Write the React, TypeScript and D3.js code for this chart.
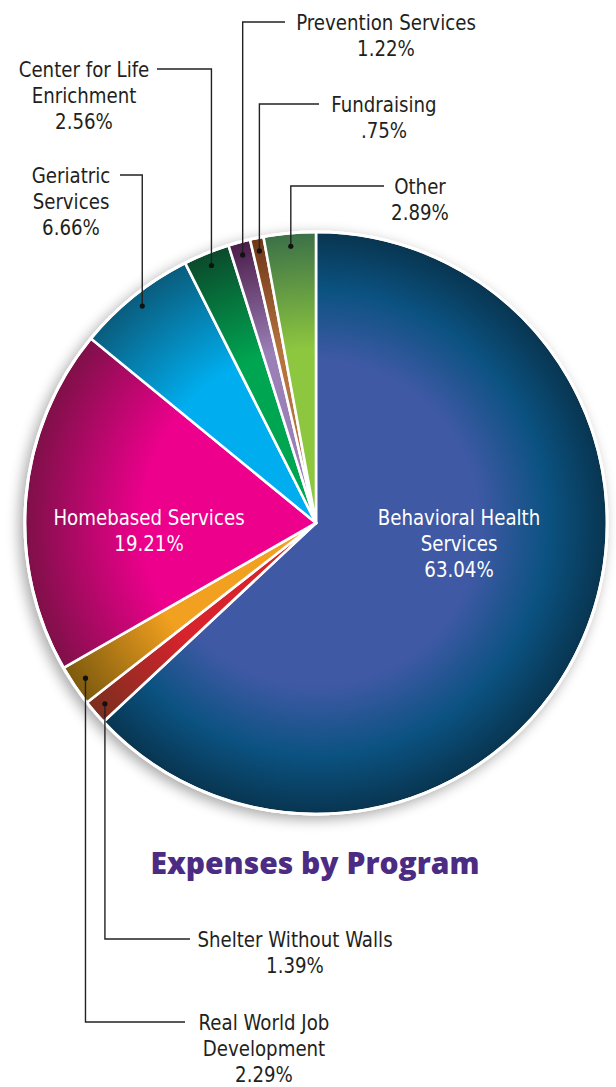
import React, { useEffect } from 'react';
import * as d3 from 'd3';

// Expenses by Program — slices run clockwise from 12 o'clock
const programs = [
  'Behavioral Health Services',
  'Shelter Without Walls',
  'Real World Job Development',
  'Homebased Services',
  'Geriatric Services',
  'Center for Life Enrichment',
  'Prevention Services',
  'Fundraising',
  'Other',
];
const shares = [63.04, 1.39, 2.29, 19.21, 6.66, 2.56, 1.22, 0.75, 2.89];
const shareLabels = ['63.04%', '1.39%', '2.29%', '19.21%', '6.66%', '2.56%', '1.22%', '.75%', '2.89%'];
const labelLines = [
  ['Behavioral Health', 'Services'],
  ['Shelter Without Walls'],
  ['Real World Job', 'Development'],
  ['Homebased Services'],
  ['Geriatric', 'Services'],
  ['Center for Life', 'Enrichment'],
  ['Prevention Services'],
  ['Fundraising'],
  ['Other'],
];
const baseColors = ['#3f59a5', '#d6232c', '#f2a01f', '#ec008c', '#00aeef', '#00a551', '#9b80b8', '#b5733e', '#8dc63f'];
const edgeColors = ['#083550', '#7a2f1e', '#7c5a0e', '#7e1048', '#0a5c7c', '#0b4a2c', '#4a1c48', '#6e3518', '#3b7048'];

// where each label sits (inside = white text on slice, else leader line)
const labelLayout: Record<number, { inside?: boolean; tx: number; ly: number; hx?: number }> = {
  0: { inside: true, tx: 459, ly: 517 },
  3: { inside: true, tx: 149, ly: 517 },
  1: { tx: 295, ly: 939, hx: 190 },
  2: { tx: 264, ly: 1022, hx: 185 },
  4: { tx: 71, ly: 175, hx: 120 },
  5: { tx: 84, ly: 69, hx: 157 },
  6: { tx: 386, ly: 22, hx: 285 },
  7: { tx: 384, ly: 104, hx: 319 },
  8: { tx: 420, ly: 186, hx: 384 },
};

const W = 616;
const H = 1087;
const cx = 316;
const cy = 523;
const R = 291;
const LINE = 26;
const FONT = '"Liberation Sans Narrow", "Arial Narrow", "DejaVu Sans Condensed", sans-serif';

export default function App() {
  useEffect(() => {
    document.body.style.margin = '0';
  }, []);

  const pie = d3.pie<number>().sort(null).value(d => d).startAngle(0).endAngle(2 * Math.PI);
  const arcs = pie(shares);
  const arc = d3.arc<d3.PieArcDatum<number>>().innerRadius(0).outerRadius(R);
  const dotArc = d3.arc<d3.PieArcDatum<number>>().innerRadius(R * 0.955).outerRadius(R * 0.955);

  return (
    <svg width={W} height={H} viewBox={`0 0 ${W} ${H}`} style={{ display: 'block', background: '#fff' }}>
      <defs>
        <filter id="shadow" x="-20%" y="-20%" width="140%" height="140%">
          <feGaussianBlur in="SourceAlpha" stdDeviation="7" />
          <feOffset dx="-4" dy="4" result="blur" />
          <feComponentTransfer>
            <feFuncA type="linear" slope="0.35" />
          </feComponentTransfer>
          <feMerge>
            <feMergeNode />
            <feMergeNode in="SourceGraphic" />
          </feMerge>
        </filter>
        {programs.map((p, i) => (
          <radialGradient key={p} id={`g${i}`} gradientUnits="userSpaceOnUse" cx={0} cy={0} r={R}>
            <stop offset="0" stopColor={baseColors[i]} />
            <stop offset={i === 0 ? '0.56' : '0.6'} stopColor={baseColors[i]} />
            {i === 0 && <stop offset="0.8" stopColor="#0b5281" />}
            <stop offset="1" stopColor={edgeColors[i]} />
          </radialGradient>
        ))}
      </defs>

      <g transform={`translate(${cx},${cy})`}>
        <circle r={R + 1.5} fill="#fff" filter="url(#shadow)" />
        {arcs.map((a, i) => (
          <path key={programs[i]} d={arc(a) || ''} fill={`url(#g${i})`} stroke="#fff" strokeWidth={2.6} strokeLinejoin="round" />
        ))}
        <circle r={R} fill="none" stroke="#fff" strokeWidth={2.5} />
      </g>

      {/* leader lines */}
      {arcs.map((a, i) => {
        const lay = labelLayout[i];
        if (lay.inside) return null;
        const [dx, dy] = dotArc.centroid(a);
        const x = cx + dx;
        const y = cy + dy;
        return (
          <g key={`lead${i}`}>
            <path d={`M${x},${y}V${lay.ly}H${lay.hx}`} fill="none" stroke="#222" strokeWidth={1.4} />
            <circle cx={x} cy={y} r={2.6} fill="#111" />
          </g>
        );
      })}

      {/* labels, condensed horizontally to match the narrow face */}
      {arcs.map((a, i) => {
        const lay = labelLayout[i];
        const lines = [...labelLines[i], shareLabels[i]];
        return (
          <g key={`lab${i}`} transform={`translate(${lay.tx},0) scale(0.92,1)`}>
            <text
              x={0}
              y={lay.ly + 8}
              textAnchor="middle"
              fontFamily={FONT}
              fontSize={22}
              fill={lay.inside ? '#fff' : '#231f20'}
            >
              {lines.map((l, k) => (
                <tspan key={k} x={0} dy={k === 0 ? 0 : LINE}>{l}</tspan>
              ))}
            </text>
          </g>
        );
      })}

      <text x={315} y={874} textAnchor="middle" fontFamily='"Open Sans", "DejaVu Sans", sans-serif' fontWeight={800} fontSize={30} fill="#4b2c82">
        Expenses by Program
      </text>
    </svg>
  );
}
